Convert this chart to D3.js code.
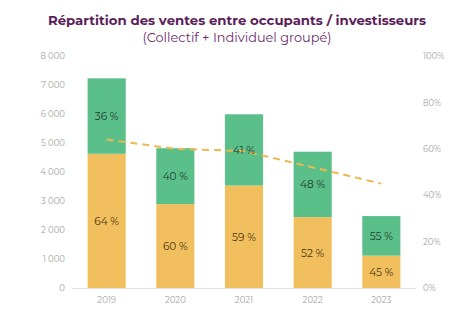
<!DOCTYPE html>
<html><head><meta charset="utf-8">
<script src="https://cdn.jsdelivr.net/npm/d3@7"></script>
<style>body{margin:0;background:#fff}svg{display:block}</style>
</head><body>
<svg id="c" width="460" height="313"></svg>
<script>
const years = ["2019","2020","2021","2022","2023"];
const totals = [7230, 4820, 5990, 4700, 2480];
const occupantPct = [64, 60, 59, 52, 45];
const investorPct = [36, 40, 41, 48, 55];
const leftTicks = [0,1000,2000,3000,4000,5000,6000,7000,8000];
const rightTicks = [0,20,40,60,80,100];
const title = "Répartition des ventes entre occupants / investisseurs";
const subtitle = "(Collectif + Individuel groupé)";

const svg = d3.select("#c");
const font = "Montserrat, 'DejaVu Sans', sans-serif";
const x = d3.scaleBand().domain(years).range([72.5, 415.5]).paddingInner(0.445).paddingOuter(0.22);
const y = d3.scaleLinear().domain([0, 8000]).range([288, 56]);
const yr = d3.scaleLinear().domain([0, 100]).range([288, 56]);
const green = "#5BBF8A", yellow = "#F2BF5F";

svg.append("text").attr("x", 237).attr("y", 25).attr("text-anchor","middle")
  .attr("font-family", font).attr("font-weight","bold").attr("font-size",13.3)
  .attr("fill","#5B1E5B").text(title);
svg.append("text").attr("x", 237).attr("y", 42).attr("text-anchor","middle")
  .attr("font-family", font).attr("font-size",12.9)
  .attr("fill","#6E2C6E").text(subtitle);

const fmt = v => v === 0 ? "0" : d3.format(",")(v).replace(/,/g, "\u00a0");
const gl = svg.append("g").attr("transform","translate(65,0)")
  .call(d3.axisLeft(y).tickValues(leftTicks).tickSize(0).tickPadding(0).tickFormat(fmt));
const gr = svg.append("g").attr("transform","translate(423,0)")
  .call(d3.axisRight(yr).tickValues(rightTicks).tickSize(0).tickPadding(0).tickFormat(d => d + "%"));
const gx = svg.append("g").attr("transform","translate(0,288)")
  .call(d3.axisBottom(x).tickSize(0).tickPadding(9));
[gl, gr, gx].forEach(g => {
  g.select(".domain").remove();
  g.selectAll("text").attr("font-family", font).attr("font-size", 8.5).attr("fill", "#a3a3a3");
});

const data = years.map((yv, i) => {
  const occ = totals[i] * occupantPct[i] / 100;
  return {year: yv, total: totals[i], occ, occPct: occupantPct[i], invPct: investorPct[i]};
});

const bars = svg.append("g");
bars.selectAll(".occ").data(data).join("rect")
  .attr("x", d => x(d.year)).attr("width", x.bandwidth())
  .attr("y", d => y(d.occ)).attr("height", d => y(0) - y(d.occ)).attr("fill", yellow);
bars.selectAll(".inv").data(data).join("rect")
  .attr("x", d => x(d.year)).attr("width", x.bandwidth())
  .attr("y", d => y(d.total)).attr("height", d => y(d.occ) - y(d.total)).attr("fill", green);

svg.append("line").attr("x1", 72).attr("x2", 416).attr("y1", 288.5).attr("y2", 288.5)
  .attr("stroke", "#e3e3e3").attr("stroke-width", 1);

const line = d3.line().x(d => x(d.year) + x.bandwidth()/2).y(d => yr(d.occPct));
svg.append("path").datum(data).attr("d", line).attr("fill","none")
  .attr("stroke", "#EDB850").attr("stroke-width", 2).attr("stroke-dasharray", "7,5");

const lab = svg.append("g").attr("font-family", font).attr("font-size", 10.5).attr("text-anchor","middle");
lab.selectAll(".li").data(data).join("text")
  .attr("x", d => x(d.year) + x.bandwidth()/2)
  .attr("y", d => (y(d.total) + y(d.occ))/2 + 4)
  .attr("fill", "#1f3d2c").text(d => d.invPct + " %");
lab.selectAll(".lo").data(data).join("text")
  .attr("x", d => x(d.year) + x.bandwidth()/2)
  .attr("y", d => (y(d.occ) + y(0))/2 + 4)
  .attr("fill", "#4a3510").text(d => d.occPct + " %");
</script>
</body></html>
